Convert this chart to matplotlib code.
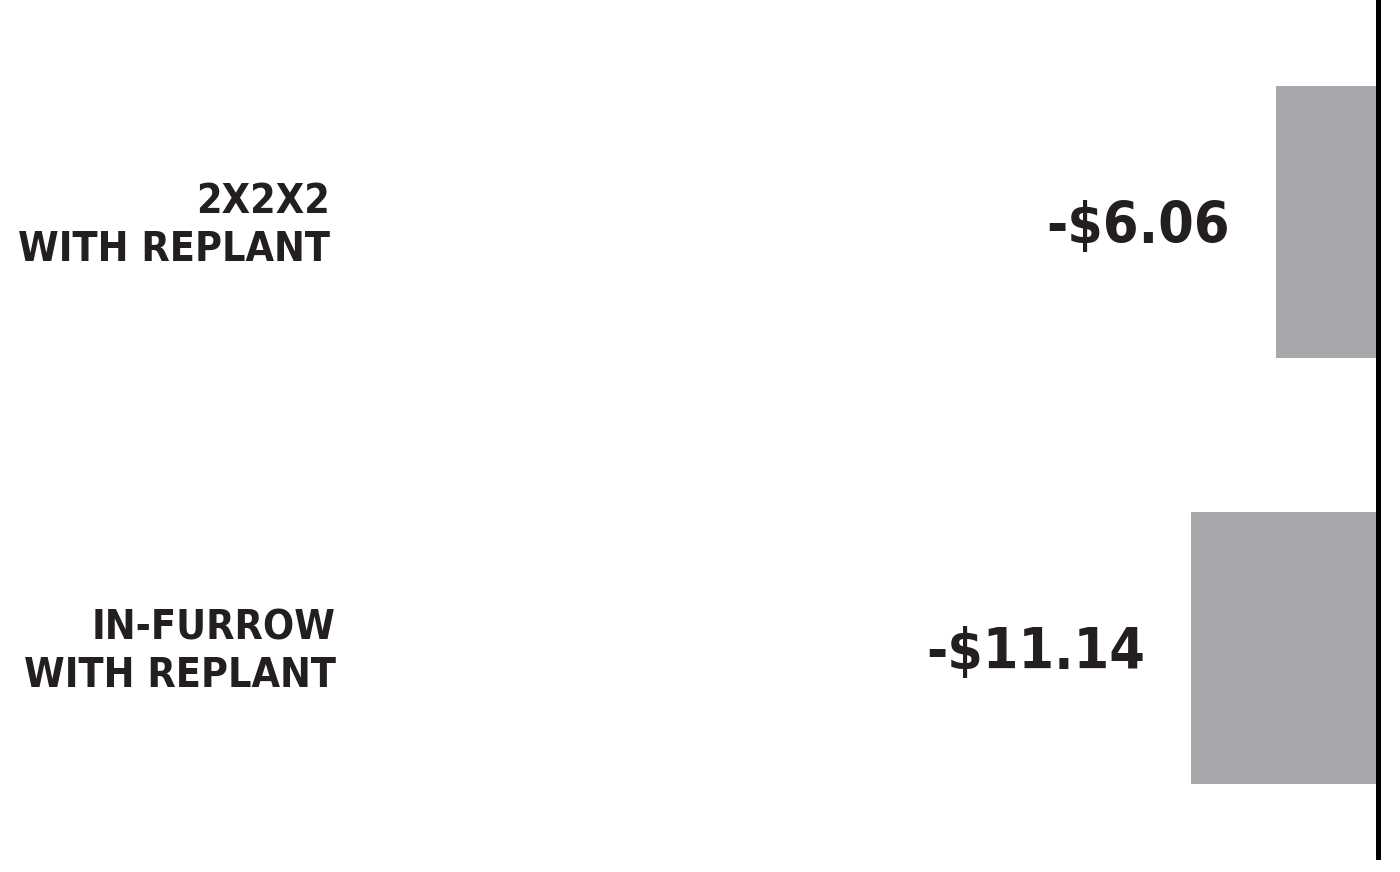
import matplotlib.pyplot as plt

# values
categories = ["2X2X2\nWITH REPLANT", "IN-FURROW\nWITH REPLANT"]
values = [-6.06, -11.14]
value_labels = ["-$6.06", "-$11.14"]

bar_color = "#a7a8ab"
text_color = "#231f20"
fonts = ["DejaVu Sans"]

fig = plt.figure(figsize=(14, 8.72), dpi=100)
ax = fig.add_axes([0, 0, 1, 1])

pos = list(range(len(categories)))
ax.barh(pos, values, height=0.638, color=bar_color)

# zero line on the right
ax.axvline(0, ymin=0.017, ymax=1, color="black", lw=3.6)

ax.set_xlim(-82.0, 1.31)
ax.set_ylim(1.526, -0.521)
ax.axis("off")

for p, v, lab in zip(pos, values, value_labels):
    ax.annotate(lab, (v, p), xytext=(-33, -4), textcoords="offset points",
                ha="right", va="center", fontsize=41, fontweight="bold",
                fontstretch="condensed", color=text_color, family=fonts)

label_x = [0.236, 0.240]
for p, cat, lx in zip(pos, categories, label_x):
    ax.annotate(cat, (lx, p), xycoords=ax.get_yaxis_transform(),
                xytext=(0, -3), textcoords="offset points",
                ha="right", va="center", multialignment="right",
                fontsize=29.5, fontweight="bold", fontstretch="condensed",
                color=text_color, linespacing=1.25, family=fonts)

fig.savefig("out.png", dpi=100)
